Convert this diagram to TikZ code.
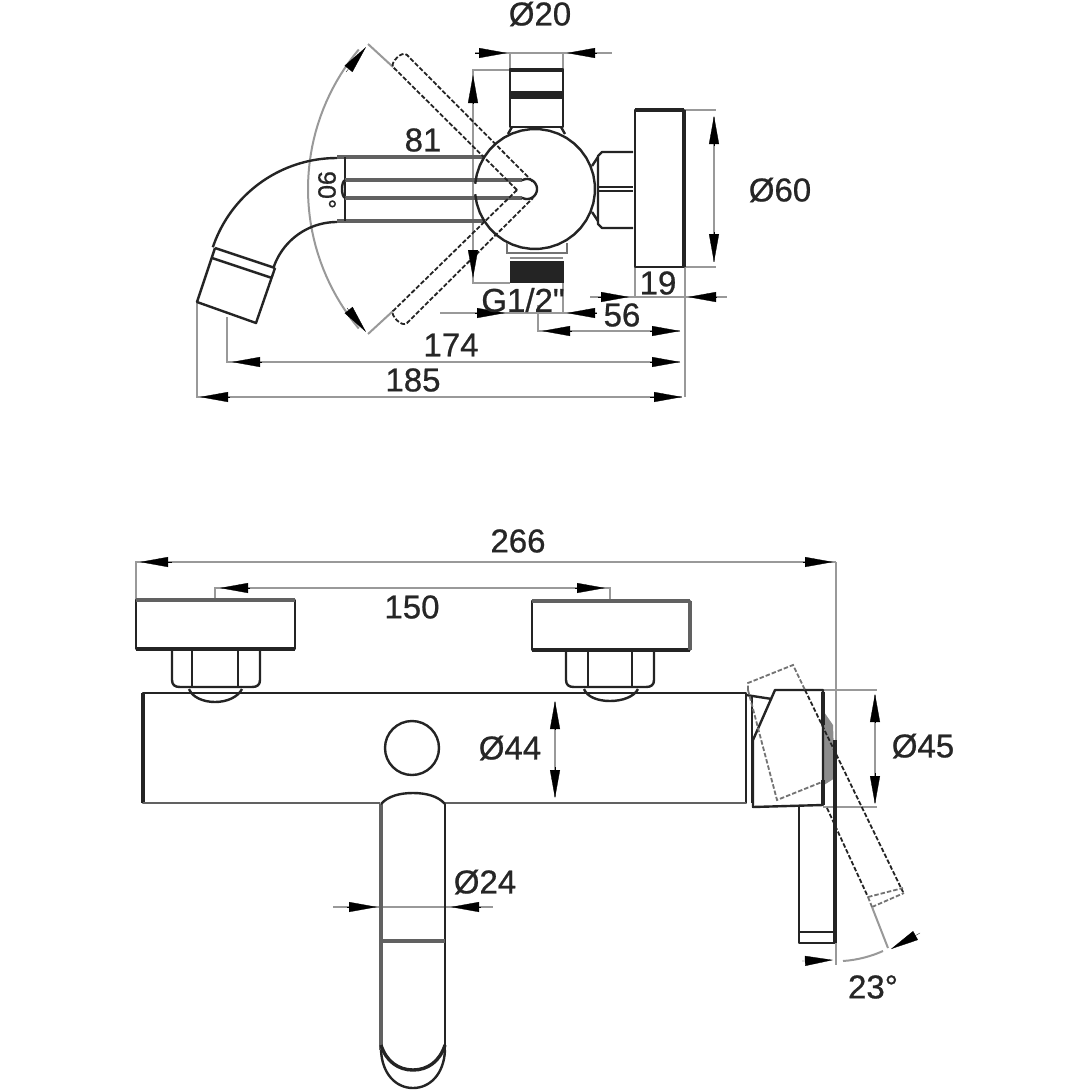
\documentclass[tikz,border=0pt]{standalone}
\usepackage{fontspec}
\setmainfont{Liberation Sans}[FakeBold=0.7]
\newfontfamily\plainf{Liberation Sans}[FakeBold=0.7]
\usetikzlibrary{arrows.meta}
\definecolor{ink}{gray}{0.14}
\definecolor{dimc}{gray}{0.60}
\definecolor{txt}{gray}{0.15}
\tikzset{
  part/.style={draw=ink,line width=2.4pt,line join=round},
  heavy/.style={draw=ink,line width=3.4pt},
  edge/.style={draw=black!62,line width=3.4pt},
  dim/.style={draw=dimc,line width=2pt},
  hidden/.style={draw=ink,line width=1.8pt,dash pattern=on 4.5pt off 2pt},
  hiddeng/.style={draw=black!55,line width=1.8pt,dash pattern=on 4.5pt off 2pt},
  ah/.style={draw=black,line width=0.3pt,-{Triangle[length=28pt,width=10pt,fill=black]}},
  lbl/.style={text=txt,inner sep=0pt,font=\fontsize{33}{33}\selectfont}
}
\newcommand{\arcp}[5]{plot[domain=#4:#5,samples=40] ({#1+#3*cos(\x)},{#2+#3*sin(\x)})}
\begin{document}
\begin{tikzpicture}[x=1pt,y=-1pt]
\useasboundingbox[fill=white] (0,0) rectangle (1090,1090);

%%% ---------- TOP VIEW ----------
% dimension and extension lines
\draw[dim] \arcp{525}{189}{217}{140}{220};
\draw[dim] (368,44) -- (393,67);
\draw[dim] (368,334) -- (393,311);
\draw[dim] (475,53) -- (612,53);
\draw[dim] (510,53) -- (510,69);
\draw[dim] (563,53) -- (563,69);
\draw[dim] (510,70) -- (473,70) -- (473,283) -- (510,283);
\draw[dim] (684,110) -- (716,110);
\draw[dim] (684,267) -- (716,267);
\draw[dim] (714,117) -- (714,262);
\draw[dim] (590,297) -- (727,297);
\draw[dim] (635,267) -- (635,297);
\draw[dim] (685,267) -- (685,397);
\draw[dim] (440,313) -- (597,313);
\draw[dim] (563,283) -- (563,313);
\draw[dim] (538,305) -- (538,331) -- (680,331);
\draw[dim] (227,317) -- (227,362) -- (680,362);
\draw[dim] (197,302) -- (197,397) -- (682,397);

% spout
\draw[part] \arcp{337}{289}{131}{198.6}{270};
\draw[part] \arcp{337}{289}{67}{198.6}{270};
\draw[edge] (337,157) -- (485,157);
\draw[edge] (337,221) -- (485,221);
\draw[part] (345,157) -- (345,221);
\draw[part] (215,248) -- (275,268);
\draw[part] (212,258) -- (272,278);
\draw[part] (215,248) -- (197,302) -- (256,323) -- (275,268);
% lever, top view
\draw[edge] (345,180) -- (522,180);
\draw[edge] (345,198) -- (522,198);
\draw[part] (345,180) .. controls (341,182) and (341,196) .. (345,198);
\draw[part] \arcp{527}{189}{10}{-120}{120};
% body ball
\draw[part] \arcp{535}{189}{60}{-175}{175};
% cartridge top
\draw[part] (510,69) rectangle (563,127);
\draw[heavy] (510,70) -- (563,70);
\fill[ink] (510,91) rectangle (563,99);
\draw[part] (512,127) -- (508,134);
\draw[part] (561,127) -- (565,134);
% cartridge bottom
\draw[draw=black!55,line width=2.2pt] (507,243) -- (507,253) -- (567,253) -- (567,243);
\draw[draw=black!45,line width=1.5pt] (510,258) -- (563,258);
\fill[ink] (510,261) rectangle (564,283);
% hex connector
\draw[part] (633,152) -- (602,152) -- (598,156) -- (598,224) -- (602,228) -- (633,228);
\draw[part] (598,187) -- (633,187);
\draw[part] (598,191) -- (633,191);
\draw[part] (598,157) -- (592,166);
\draw[part] (598,221) -- (592,212);
% wall plate
\draw[part] (635,110) rectangle (684,267);
\draw[heavy] (635,110) -- (684,110);
\draw[heavy] (684,110) -- (684,267);
% handle positions (hidden)
\draw[hidden] (517,190) -- (393,67) .. controls (390,63) and (402,50) .. (407,55) -- (533,182);
\draw[hidden] (517,190) -- (393,311) .. controls (390,315) and (402,328) .. (407,323) -- (533,198);

% arrowheads
\draw[ah] (346,72) -- (366,47);
\draw[ah] (347,308) -- (366,332);
\draw[ah] (475,53) -- (507,53);
\draw[ah] (597,53) -- (567,53);
\draw[ah] (473,103) -- (473,75);
\draw[ah] (473,250) -- (473,278);
\draw[ah] (714,146) -- (714,116);
\draw[ah] (714,232) -- (714,262);
\draw[ah] (598,297) -- (629,297);
\draw[ah] (717,297) -- (688,297);
\draw[ah] (475,313) -- (505,313);
\draw[ah] (597,313) -- (567,313);
\draw[ah] (572,331) -- (542,331);
\draw[ah] (650,331) -- (680,331);
\draw[ah] (262,362) -- (232,362);
\draw[ah] (650,362) -- (680,362);
\draw[ah] (230,397) -- (200,397);
\draw[ah] (650,397) -- (682,397);

% labels
\node[lbl] (d20) at (540,14) {Ø20};
\node[lbl] (d81) at (423,140) {81};
\node[lbl,rotate=-90,font=\fontsize{25}{25}\selectfont] (a90) at (327,190) {90°};
\node[lbl] (d60) at (780,190) {Ø60};
\node[lbl] (d19) at (658,283) {19};
\node[lbl] (g12) at (523,300) {\plainf G1/2"};
\node[lbl] (d56) at (622,315) {56};
\node[lbl] (d174) at (451,345) {174};
\node[lbl] (d185) at (413,380) {185};

%%% ---------- FRONT VIEW ----------
% dimensions
\draw[dim] (136,600) -- (136,562) -- (836,562);
\draw[dim] (836,562) -- (836,965);
\draw[dim] (215,600) -- (215,588) -- (610,588) -- (610,601);
\draw[dim] (555,702) -- (555,797);
\draw[dim] (823,690) -- (877,690);
\draw[dim] (823,807) -- (877,807);
\draw[dim] (875,695) -- (875,803);
\draw[dim] (333,907) -- (493,907);
\draw[dim] (843,961) .. controls (858,960) and (872,956) .. (883,951);

% wall plates
\draw[part] (136,600) rectangle (295,649);
\draw[edge] (136,600) -- (295,600);
\draw[heavy] (136,649) -- (295,649);
\draw[part] (532,601) rectangle (690,650);
\draw[edge] (532,601) -- (690,601);
\draw[heavy] (532,650) -- (690,650);
\draw[edge] (690,601) -- (690,650);
% nuts
\draw[part] (172,650) -- (172,680) .. controls (172,685) and (175,687) .. (180,687) -- (252,687) .. controls (257,687) and (260,685) .. (260,680) -- (260,650);
\draw[part] (192,650) -- (192,687);
\draw[part] (238,650) -- (238,687);
\draw[part] (189,689) .. controls (192,697) and (203,702) .. (215,702) .. controls (227,702) and (238,697) .. (242,689);
\draw[part] (566,650) -- (566,680) .. controls (566,685) and (569,687) .. (574,687) -- (646,687) .. controls (651,687) and (654,685) .. (654,680) -- (654,650);
\draw[part] (588,650) -- (588,687);
\draw[part] (632,650) -- (632,687);
\draw[part] (584,689) .. controls (587,697) and (598,701) .. (610,701) .. controls (622,701) and (634,697) .. (638,689);
% body
\draw[part] (380,803) -- (143,803) -- (143,693) -- (746,693) -- (746,803) -- (445,803);
\draw[heavy] (143,693) -- (143,803);
\draw[draw=black!62,line width=2.8pt] (143,803) -- (380,803);
\draw[draw=black!62,line width=2.8pt] (445,803) -- (746,803);
\draw[part] (752,695) -- (752,803);
\draw[part] (412,748) circle[radius=27];
% spout, front
\draw[edge] (381,804) -- (381,1050);
\draw[part] (445,804) -- (445,1050);
\draw[part] (381,804) .. controls (388,796) and (400,793) .. (413,793) .. controls (426,793) and (438,796) .. (445,804);
\draw[edge] (381,941) -- (445,941);
\draw[heavy] (381,1045) .. controls (386,1061) and (398,1070) .. (413,1070) .. controls (428,1070) and (440,1061) .. (445,1045);
\draw[part] (381,1050) .. controls (382,1074) and (396,1088) .. (413,1088) .. controls (430,1088) and (444,1074) .. (445,1050);
% handle, end
\fill[black!45] (824,712) -- (833,725) -- (835,778) -- (824,785) -- cycle;
\draw[part] (746,695) -- (772,699);
\draw[part] (753,807) -- (753,740) -- (775,690) -- (823,690) -- (823,805) -- cycle;
\draw[heavy] (823,692) -- (823,725);
\draw[heavy] (823,780) -- (823,805);
\draw[part] (799,807) -- (799,943) -- (835,943);
\draw[heavy] (835,740) -- (835,943);
\draw[part] (799,932) -- (835,932);
% rotated handle (hidden)
\draw[hiddeng] (748,690) -- (748,683) -- (793,665) -- (805,690);
\draw[hiddeng] (748,690) -- (777,800) -- (822,782);
\draw[hidden] (805,690) -- (903,892);
\draw[hidden] (827,808) -- (868,897);
\draw[hiddeng] (868,897) -- (903,888);
\draw[hiddeng] (872,907) -- (904,893);
\draw[hiddeng] (868,897) -- (872,907);
\draw[dim] (872,907) -- (888,948);

% arrowheads
\draw[ah] (172,562) -- (140,562);
\draw[ah] (803,562) -- (833,562);
\draw[ah] (250,588) -- (220,588);
\draw[ah] (575,588) -- (605,588);
\draw[ah] (555,730) -- (555,701);
\draw[ah] (555,767) -- (555,798);
\draw[ah] (875,722) -- (875,694);
\draw[ah] (875,773) -- (875,804);
\draw[ah] (347,907) -- (377,907);
\draw[ah] (481,907) -- (451,907);
\draw[ah] (802,961) -- (833,960);
\draw[ah] (920,933) -- (891,949);

% labels
\node[lbl] (d266) at (518,541) {266};
\node[lbl] (d150) at (412,607) {150};
\node[lbl] (d44) at (510,748) {Ø44};
\node[lbl] (d45) at (923,746) {Ø45};
\node[lbl] (d24) at (485,882) {Ø24};
\node[lbl] (a23) at (873,987) {23°};
\end{tikzpicture}
\end{document}
